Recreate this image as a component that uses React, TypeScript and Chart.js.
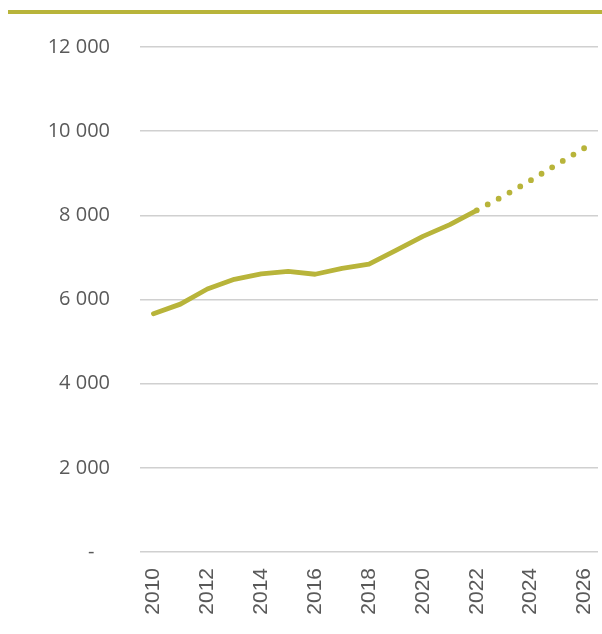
import React, { useEffect, useRef } from "react";
import { Chart, registerables } from "chart.js";

Chart.register(...registerables);

const years: string[] = [
  "2010", "2011", "2012", "2013", "2014", "2015", "2016", "2017", "2018",
  "2019", "2020", "2021", "2022", "2023", "2024", "2025", "2026",
];

const historical: (number | null)[] = [
  5660, 5890, 6250, 6480, 6610, 6670, 6600, 6740, 6840, 7170, 7500, 7780, 8120,
  null, null, null, null,
];

const forecast: (number | null)[] = [
  null, null, null, null, null, null, null, null, null, null, null, null, 8120,
  8460, 8830, 9220, 9600,
];

const yTicks: number[] = [0, 2000, 4000, 6000, 8000, 10000, 12000];

const OLIVE = "#B8B43A";
const GREY_TEXT = "#595959";

function fmt(v: number): string {
  if (v === 0) return "-   ";
  return String(v).replace(/\B(?=(\d{3})+(?!\d))/g, " ");
}

const topBar = {
  id: "topBar",
  beforeDraw(chart: any) {
    const ctx = chart.ctx;
    ctx.save();
    ctx.fillStyle = OLIVE;
    ctx.fillRect(8, 10, chart.width - 8, 4);
    ctx.restore();
  },
};

export default function App() {
  const ref = useRef<HTMLCanvasElement | null>(null);

  useEffect(() => {
    if (!ref.current) return;
    const chart = new Chart(ref.current, {
      type: "line",
      data: {
        labels: years,
        datasets: [
          {
            data: historical,
            borderColor: OLIVE,
            borderWidth: 4.8,
            borderCapStyle: "round",
            borderJoinStyle: "round",
            pointRadius: 0,
            tension: 0,
            spanGaps: false,
          },
          {
            data: forecast,
            borderColor: OLIVE,
            borderWidth: 5.8,
            borderCapStyle: "round",
            borderDash: [0, 12.4],
            pointRadius: 0,
            tension: 0,
            spanGaps: false,
          },
        ],
      },
      options: {
        animation: false,
        responsive: true,
        maintainAspectRatio: false,
        layout: { padding: { top: 47, right: 4, bottom: 0, left: 0 } },
        plugins: {
          legend: { display: false },
          tooltip: { enabled: false },
        },
        scales: {
          x: {
            type: "category",
            offset: true,
            grid: { display: false, drawTicks: false },
            border: { display: false },
            ticks: {
              autoSkip: false,
              minRotation: 90,
              maxRotation: 90,
              padding: 16,
              color: GREY_TEXT,
              font: { family: "'Liberation Sans', Arial, sans-serif", size: 21 },
              callback: (_v: any, i: number) => (i % 2 === 0 ? years[i] : ""),
            },
            afterFit: (scale: any) => {
              scale.height = 82;
              scale.paddingLeft = 0;
              scale.paddingRight = 0;
            },
          },
          y: {
            min: 0,
            max: 12000,
            afterBuildTicks: (scale: any) => {
              scale.ticks = yTicks.map((v) => ({ value: v }));
            },
            grid: {
              color: "#D0D0D0",
              lineWidth: 1.5,
              drawTicks: false,
            },
            border: { display: false },
            ticks: {
              padding: 30,
              color: GREY_TEXT,
              font: { family: "'Open Sans', sans-serif", size: 20 },
              callback: (v: any) => fmt(Number(v)),
            },
            afterFit: (scale: any) => {
              scale.width = 140;
            },
          },
        },
      },
      plugins: [topBar],
    });
    return () => chart.destroy();
  }, []);

  return (
    <div style={{ position: "absolute", left: 0, top: 0, width: 602, height: 634, background: "#fff" }}>
      <canvas ref={ref} />
    </div>
  );
}
